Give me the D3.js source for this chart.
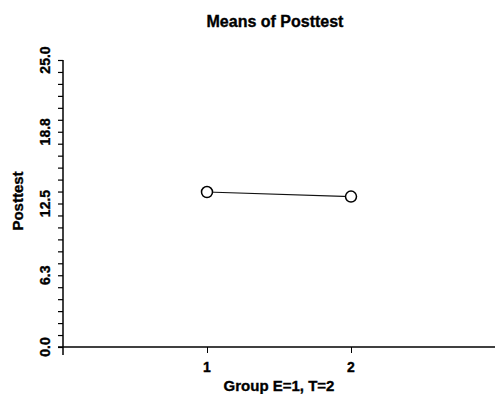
<!DOCTYPE html>
<html>
<head>
<meta charset="utf-8">
<script src="https://cdn.jsdelivr.net/npm/d3@7"></script>
<style>
  html, body { margin: 0; padding: 0; background: #fff; }
  svg { display: block; }
  text { font-family: 'Liberation Sans', Arial, sans-serif; font-weight: bold; fill: #000; stroke: #000; stroke-width: 0.35px; }
</style>
</head>
<body>
<script>
// data
const groups = [1, 2]
const means = [13.5, 13.1]

const x_ticks = [1, 2]
const x_tick_labels = ['1', '2']
const y_ticks = [0, 6.25, 12.5, 18.75, 25]
const y_tick_labels = ['0.0', '6.3', '12.5', '18.8', '25.0']

const title = 'Means of Posttest'
const x_title = 'Group E=1, T=2'
const y_title = 'Posttest'

const width = 495
const height = 394
const margin = {top: 60, right: 0, bottom: 47, left: 63}

function translate(dx, dy) {
  return `translate(${dx}, ${dy})`
}

const svg = d3.select('body').append('svg')
  .attr('width', width)
  .attr('height', height)
  .attr('viewBox', `0 0 ${width} ${height}`)

const x = d3.scaleLinear()
  .domain([0, 3])
  .range([margin.left, width - margin.right])

const y = d3.scaleLinear()
  .domain([0, 25])
  .range([height - margin.bottom, margin.top])

// y axis: majors with 5 minor ticks between each
const minor = d3.range(0, 25 + 1e-9, 25 / 24)

const y_axis = svg.append('g')
  .attr('transform', translate(margin.left, 0))
  .call(d3.axisLeft(y).tickValues(minor).tickSize(5).tickFormat('').tickSizeOuter(0))

y_axis.select('.domain')
  .attr('d', `M0,${y(25)}V${y(0) + 8}`)
  .attr('stroke-width', 1.5)

y_axis.selectAll('.tick line').attr('stroke-width', 1.2)

svg.append('g')
  .selectAll('text')
  .data(y_ticks)
  .join('text')
    .attr('transform', (d, i) => translate(50, y(d)) + ' rotate(-90)')
    .attr('text-anchor', 'middle')
    .attr('font-size', 14)
    .text((d, i) => y_tick_labels[i])

// x axis
const x_axis = svg.append('g')
  .attr('transform', translate(0, y(0)))
  .call(d3.axisBottom(x).tickValues(x_ticks).tickSize(6).tickFormat('').tickSizeOuter(0))

x_axis.select('.domain')
  .attr('d', `M${margin.left - 5},0H${width}`)
  .attr('stroke-width', 1.5)

svg.append('g')
  .selectAll('text')
  .data(x_ticks)
  .join('text')
    .attr('x', d => x(d))
    .attr('y', 372)
    .attr('text-anchor', 'middle')
    .attr('font-size', 14)
    .text((d, i) => x_tick_labels[i])

// titles
svg.append('text')
  .attr('x', 275)
  .attr('y', 27)
  .attr('text-anchor', 'middle')
  .attr('font-size', 16)
  .text(title)

svg.append('text')
  .attr('x', (margin.left + width - margin.right) / 2)
  .attr('y', 391)
  .attr('text-anchor', 'middle')
  .attr('font-size', 15)
  .text(x_title)

svg.append('text')
  .attr('transform', translate(23, 201) + ' rotate(-90)')
  .attr('text-anchor', 'middle')
  .attr('font-size', 15)
  .text(y_title)

// means line and markers
const rows = groups.map((g, i) => ({group: g, mean: means[i]}))

svg.append('path')
  .datum(rows)
  .attr('fill', 'none')
  .attr('stroke', '#111')
  .attr('stroke-width', 1.2)
  .attr('d', d3.line().x(d => x(d.group)).y(d => y(d.mean)))

svg.append('g')
  .selectAll('circle')
  .data(rows)
  .join('circle')
    .attr('cx', d => x(d.group))
    .attr('cy', d => y(d.mean))
    .attr('r', 5.5)
    .attr('fill', '#fff')
    .attr('stroke', '#000')
    .attr('stroke-width', 1.5)
</script>
</body>
</html>
